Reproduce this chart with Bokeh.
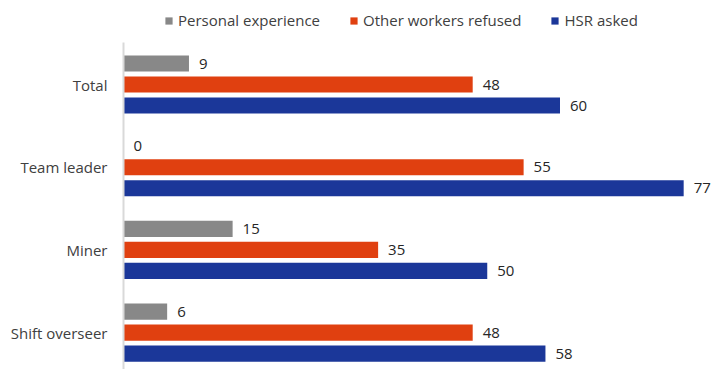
from bokeh.plotting import figure
from bokeh.models import ColumnDataSource, Range1d, FixedTicker, Legend, LegendItem
from bokeh.transform import dodge
from bokeh.core.properties import value
from bokeh.embed import file_html
from bokeh.resources import INLINE

categories = ["Total", "Team leader", "Miner", "Shift overseer"]
personal = [9, 0, 15, 6]
other_refused = [48, 55, 35, 48]
hsr_asked = [60, 77, 50, 58]
series_names = ["Personal experience", "Other workers refused", "HSR asked"]
colors = ["#888888", "#E04010", "#1B3799"]

FONT = "Open Sans"
pos = list(range(len(categories) - 1, -1, -1))

src = ColumnDataSource(dict(
    pos=pos,
    personal=personal,
    other=other_refused,
    hsr=hsr_asked,
    personal_t=[str(v) for v in personal],
    other_t=[str(v) for v in other_refused],
    hsr_t=[str(v) for v in hsr_asked],
))

p = figure(width=713, height=369, output_backend="svg", toolbar_location=None,
           x_range=Range1d(0, 81.1), y_range=Range1d(-0.446, 4.016),
           min_border_left=123, min_border_right=0, min_border_bottom=0, min_border_top=0)

offsets = [0.254, 0.0, -0.254]
fields = ["personal", "other", "hsr"]
renderers = []
for f, off, c in zip(fields, offsets, colors):
    r = p.hbar(y=dodge("pos", off), left=0, right=f, height=0.195,
               source=src, fill_color=c, line_color=None)
    renderers.append(r)
    p.text(x=f, y=dodge("pos", off), text=f + "_t", source=src,
           x_offset=10, text_baseline="middle", text_align="left",
           text_font=value(FONT), text_font_size="15px", text_color="#262626")

legend = Legend(items=[LegendItem(label=n, renderers=[r]) for n, r in zip(series_names, renderers)],
                orientation="horizontal", location=(41, 339), margin=0, padding=0,
                glyph_width=9, glyph_height=9, label_standoff=5, spacing=29, label_height=20,
                label_text_font=FONT, label_text_font_size="15px", label_text_color="#404040",
                border_line_color=None, background_fill_alpha=0)
p.add_layout(legend, "center")

p.xaxis.visible = False
p.yaxis.bounds = (-0.446, 3.508)
p.yaxis.ticker = FixedTicker(ticks=pos)
p.yaxis.major_label_overrides = {pv: c for pv, c in zip(pos, categories)}
p.yaxis.major_tick_line_color = None
p.yaxis.minor_tick_line_color = None
p.yaxis.major_tick_out = 0
p.yaxis.major_tick_in = 0
p.yaxis.axis_line_color = "#d9d9d9"
p.yaxis.axis_line_width = 2
p.yaxis.major_label_standoff = 16
p.yaxis.major_label_text_font = FONT
p.yaxis.major_label_text_font_size = "15px"
p.yaxis.major_label_text_color = "#404040"
p.grid.visible = False
p.outline_line_color = None

open("out.html", "w").write(file_html(p, INLINE))
